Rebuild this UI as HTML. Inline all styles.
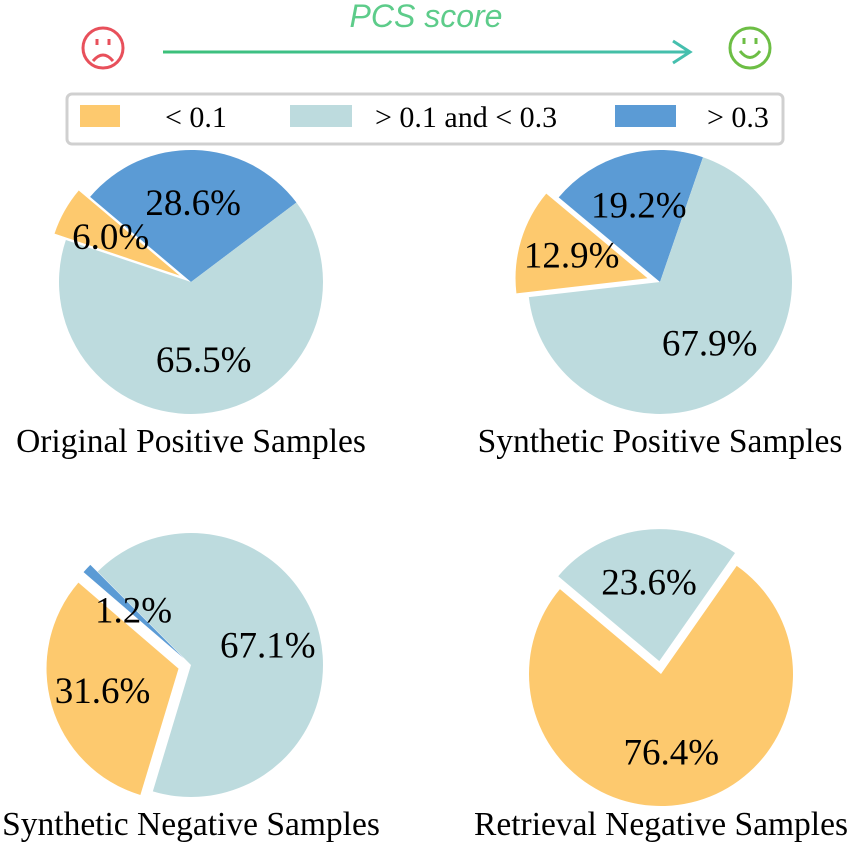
<!DOCTYPE html>
<html><head><meta charset="utf-8"><style>
body{margin:0;background:#fff;}
svg{display:block;font-family:"Liberation Serif",serif;}
</style></head><body>
<svg id="chart" width="850" height="846" viewBox="0 0 850 846">
<defs><linearGradient id="ag" gradientUnits="userSpaceOnUse" x1="163" y1="0" x2="690" y2="0"><stop offset="0" stop-color="#3cc07a"/><stop offset="1" stop-color="#45bfae"/></linearGradient></defs>
<g fill="none" stroke="#e8505b" stroke-width="3">
<circle cx="103" cy="48" r="20"/><line x1="97" y1="39" x2="97" y2="45"/><line x1="109" y1="39" x2="109" y2="45"/><path d="M93 61 Q103 49 113 61"/></g>
<g fill="none" stroke="#6dbe45" stroke-width="3">
<circle cx="750" cy="48" r="20"/><line x1="744" y1="38" x2="744" y2="44"/><line x1="756" y1="38" x2="756" y2="44"/><path d="M740 51 Q750 64 760 51"/></g>
<g><line x1="163" y1="52" x2="690" y2="52" stroke="url(#ag)" stroke-width="3"/><path d="M673 41 L690 52 L673 63" fill="none" stroke="#45bfae" stroke-width="3"/></g>
<text x="426" y="27" text-anchor="middle" font-family="Liberation Sans, sans-serif" font-style="italic" font-size="32" fill="#5dcc8a">PCS score</text>
<g>
<rect x="67" y="94" width="716" height="50" rx="5" fill="#fff" stroke="#d0d0d0" stroke-width="3"/>
<rect x="80" y="105" width="40" height="22" fill="#fdc96e"/>
<text x="165" y="127" font-size="30">&lt; 0.1</text>
<rect x="290" y="105" width="62" height="22" fill="#bddbde"/>
<text x="375" y="127" font-size="30">&gt; 0.1 and &lt; 0.3</text>
<rect x="615" y="105" width="61" height="22" fill="#5b9bd5"/>
<text x="707" y="127" font-size="30">&gt; 0.3</text>
</g>
<g id="pies"></g>
</svg>
<script>
const pieTitles=["Original Positive Samples","Synthetic Positive Samples","Synthetic Negative Samples","Retrieval Negative Samples"];
const lowValues=[6.0,12.9,31.6,76.4];
const midValues=[65.5,67.9,67.1,23.6];
const highValues=[28.6,19.2,1.2,0];
const layout=[{cx:191,cy:282,ty:452,start:37,order:["high","low","mid"],explode:{low:13}},
{cx:660,cy:282,ty:452,start:71,order:["high","low","mid"],explode:{low:13}},
{cx:191,cy:665,ty:835,start:135,order:["high","low","mid"],explode:{low:13,high:10}},
{cx:661,cy:674,ty:835,start:55,order:["mid","low"],explode:{mid:13}}];
const colors={low:"#fdc96e",mid:"#bddbde",high:"#5b9bd5"};
const R=132,NS="http://www.w3.org/2000/svg";
const g=document.getElementById('pies');
function pt(cx,cy,r,a){const t=a*Math.PI/180;return [cx+r*Math.cos(t),cy-r*Math.sin(t)];}
pieTitles.forEach((title,i)=>{
  const L=layout[i];const vals={low:lowValues[i],mid:midValues[i],high:highValues[i]};
  const tot=vals.low+vals.mid+vals.high;
  const grp=document.createElementNS(NS,'g');
  
  
  g.appendChild(grp);
  let a=L.start;const labels=[];
  L.order.forEach(k=>{
    const v=vals[k];if(!v)return;
    const sweep=v/tot*360,mid=a+sweep/2,ex=L.explode[k]||0;
    const [ox,oy]=pt(0,0,ex,mid);const cx=L.cx+ox,cy=L.cy+oy;
    const p1=pt(cx,cy,R,a),p2=pt(cx,cy,R,a+sweep);
    const path=document.createElementNS(NS,'path');
    path.setAttribute('d',`M${cx},${cy} L${p1[0]},${p1[1]} A${R},${R} 0 ${sweep>180?1:0} 0 ${p2[0]},${p2[1]} Z`);
    path.setAttribute('fill',colors[k]);
    
    
    grp.appendChild(path);
    const lp=pt(cx,cy,R*0.6,mid);
    labels.push([lp,v]);
    a+=sweep;
  });
  labels.forEach(([lp,v])=>{
    const t=document.createElementNS(NS,'text');
    t.setAttribute('x',lp[0]+(v<2?8:0));t.setAttribute('y',lp[1]+12+(v<2?6:0));
    t.setAttribute('text-anchor','middle');t.setAttribute('font-size','37');
    
    
    t.textContent=v.toFixed(1)+'%';grp.appendChild(t);
  });
  const tt=document.createElementNS(NS,'text');
  tt.setAttribute('x',L.cx);tt.setAttribute('y',L.ty);
  tt.setAttribute('text-anchor','middle');tt.setAttribute('font-size','33.5');
  
  
  tt.textContent=title;grp.appendChild(tt);
});
</script>
</body></html>
